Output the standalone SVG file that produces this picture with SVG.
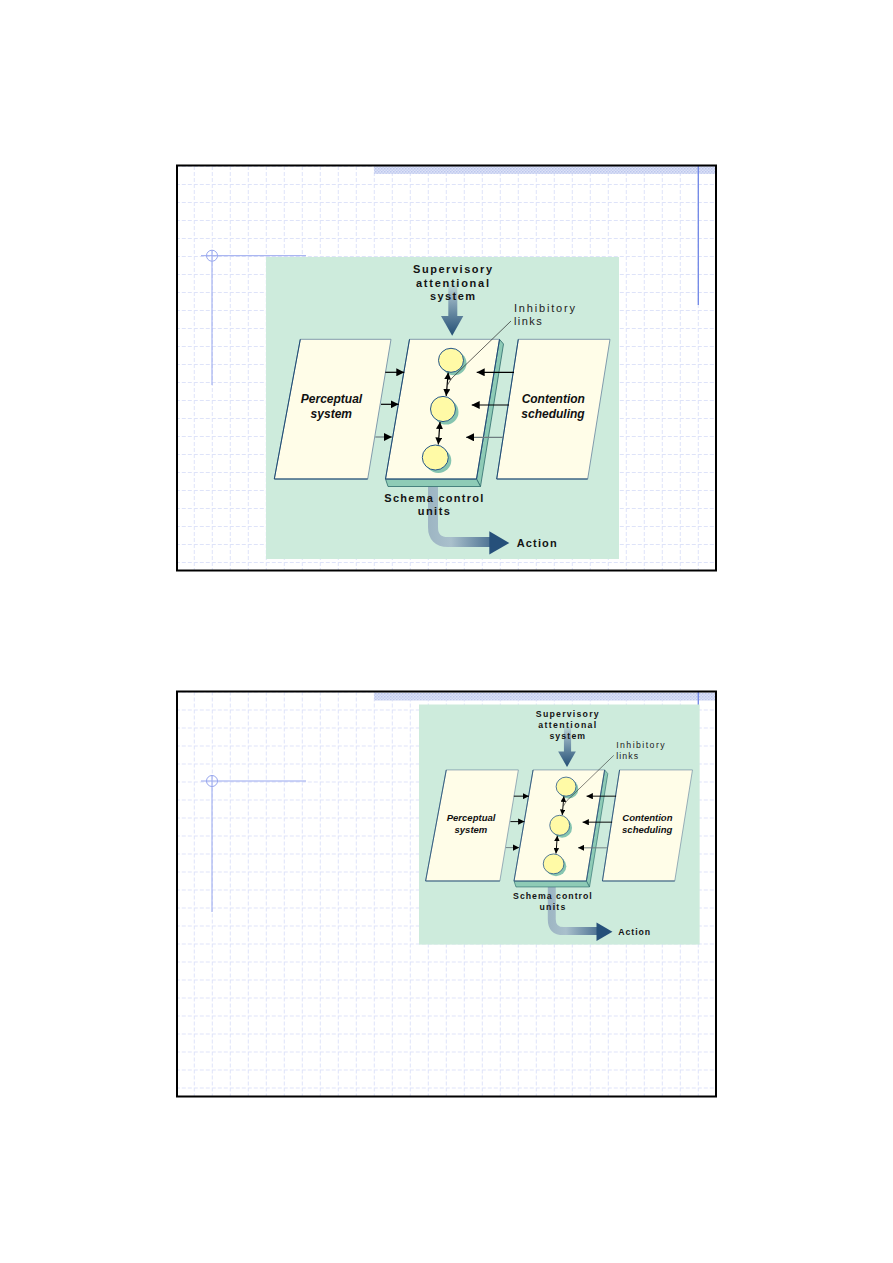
<svg xmlns="http://www.w3.org/2000/svg" width="893" height="1263" viewBox="0 0 893 1263">
<style>
.lbl{font-family:"Liberation Sans",Arial,sans-serif;font-weight:bold;font-size:11px;fill:#141414}
.thin{font-weight:normal;fill:#222}
.ital{font-family:"Liberation Sans",Arial,sans-serif;font-weight:bold;font-style:italic;font-size:12px;fill:#111}
.panel{fill:#CDEBDC}
.para{fill:#FFFDE8;stroke:#7591A6;stroke-width:0.9}
.edge{fill:none;stroke:#1D4A73;stroke-width:1}
.bevel{fill:#8ECBB6;stroke:#2D6B6B;stroke-width:0.8}
.shadow{fill:#86C5B0}
.circ{fill:#FFFAA6;stroke:#24578A;stroke-width:1}
.arr{stroke:#000;stroke-width:1.2;fill:none}
.arrg{stroke:#6E7C80;stroke-width:1.2;fill:none}
.deco{stroke:#97A6EE;stroke-width:1;fill:none}
.frame{fill:none;stroke:#000;stroke-width:2}
</style>
<defs>
<pattern id="grid1" patternUnits="userSpaceOnUse" x="193.8" y="184" width="18" height="18">
<path d="M0.5,0 V18" stroke="#DEE3F9" stroke-width="1" stroke-dasharray="4 2"/>
<path d="M0,0.5 H18" stroke="#DEE3F9" stroke-width="1" stroke-dasharray="4 2"/>
</pattern>
<pattern id="grid2" patternUnits="userSpaceOnUse" x="193.8" y="709.5" width="18" height="18">
<path d="M0.5,0 V18" stroke="#DEE3F9" stroke-width="1" stroke-dasharray="4 2"/>
<path d="M0,0.5 H18" stroke="#DEE3F9" stroke-width="1" stroke-dasharray="4 2"/>
</pattern>
<pattern id="hatch" patternUnits="userSpaceOnUse" width="3" height="3">
<rect width="3" height="3" fill="#DCE2F7"/>
<rect width="1.5" height="1.5" fill="#BCC7EE"/>
<rect x="1.5" y="1.5" width="1.5" height="1.5" fill="#C6CFF0"/>
</pattern>
<marker id="ah" markerUnits="userSpaceOnUse" markerWidth="8" markerHeight="8" refX="8" refY="4" orient="auto-start-reverse">
<path d="M0,0 L8,4 L0,8 z" fill="#000"/>
</marker>
<marker id="ahs" markerUnits="userSpaceOnUse" markerWidth="7" markerHeight="7" refX="7" refY="3.5" orient="auto-start-reverse">
<path d="M0,0 L7,3.5 L0,7 z" fill="#000"/>
</marker>
<linearGradient id="supGrad" gradientUnits="userSpaceOnUse" x1="0" y1="24" x2="0" y2="79">
<stop offset="0" stop-color="#CDEBDC"/>
<stop offset="0.25" stop-color="#9DB7C5"/>
<stop offset="0.65" stop-color="#5A7E99"/>
<stop offset="1" stop-color="#234E74"/>
</linearGradient>
<linearGradient id="actGrad" gradientUnits="userSpaceOnUse" x1="160" y1="0" x2="243" y2="0">
<stop offset="0" stop-color="#9CB4C2"/>
<stop offset="0.3" stop-color="#A9C0CC"/>
<stop offset="1" stop-color="#26507A"/>
</linearGradient>
</defs>

<rect width="893" height="1263" fill="#fff"/>

<!-- Slide 1 -->
<g id="slide1">
<rect x="178" y="166" width="537" height="404" fill="url(#grid1)"/>
<rect x="374" y="166" width="341" height="8" fill="url(#hatch)"/>
<line x1="698.3" y1="166" x2="698.3" y2="305" stroke="#6F86E6" stroke-width="1.3"/>
<line x1="201" y1="255.7" x2="306" y2="255.7" class="deco"/>
<line x1="212" y1="250" x2="212" y2="385" class="deco"/>
<circle cx="212" cy="255.7" r="5.5" class="deco"/>
<rect x="177" y="165.5" width="539" height="405" class="frame"/>
</g>

<!-- Slide 2 -->
<g id="slide2">
<rect x="178" y="692" width="537" height="404" fill="url(#grid2)"/>
<rect x="374" y="692.5" width="341" height="8" fill="url(#hatch)"/>
<line x1="698.3" y1="692" x2="698.3" y2="830" stroke="#6F86E6" stroke-width="1.3"/>
<line x1="201" y1="781" x2="306" y2="781" class="deco"/>
<line x1="212" y1="775" x2="212" y2="912" class="deco"/>
<circle cx="212" cy="781" r="5.5" class="deco"/>
<rect x="177" y="691.5" width="539" height="405" class="frame"/>
</g>

<!-- Diagram 1 -->
<g id="diagram1" transform="translate(266,257)">
<rect class="panel" x="0" y="0" width="353" height="302"/>
<g id="d1-supervisory">
<rect x="182.3" y="24" width="9" height="36" fill="url(#supGrad)"/>
<polygon points="175,59 197.3,59 186.2,78.7" fill="url(#supGrad)"/>
<text class="lbl" x="186.5" y="16.3" text-anchor="middle" textLength="79" lengthAdjust="spacing">Supervisory</text>
<text class="lbl" x="186.5" y="29.7" text-anchor="middle" textLength="73" lengthAdjust="spacing">attentional</text>
<text class="lbl" x="186.5" y="43" text-anchor="middle" textLength="45" lengthAdjust="spacing">system</text>
</g>
<g id="d1-action">
<path d="M167,229.5 V270 Q167,285 182,285 H224" fill="none" stroke="url(#actGrad)" stroke-width="10"/>
<polygon points="223.3,274.3 243.3,286 223.3,297.5" fill="#26507A"/>
<text class="lbl" x="250.7" y="289.7" textLength="40" lengthAdjust="spacing">Action</text>
</g>
<g id="d1-perceptual">
<polygon class="para" points="34.3,82.3 125,82.3 101.7,222 8.3,222"/>
<polyline class="edge" points="34.3,82.3 8.3,222 101.7,222"/>
<text class="ital" x="65.5" y="146.3" text-anchor="middle">Perceptual</text>
<text class="ital" x="65.3" y="161.3" text-anchor="middle">system</text>
</g>
<g id="d1-schema">
<polygon class="bevel" points="233.5,82.3 237.5,87 214.5,229.5 210.5,222"/>
<polygon class="bevel" points="119.5,222 210.5,222 214.5,229.5 122,229.5"/>
<polygon class="para" points="143.5,82.3 233.5,82.3 210.5,222 119.5,222"/>
<polyline class="edge" points="143.5,82.3 119.5,222 210.5,222 233.5,82.3"/>
<ellipse class="shadow" cx="188" cy="106.3" rx="12.5" ry="12"/>
<ellipse class="circ" cx="185" cy="103.3" rx="12.5" ry="12"/>
<ellipse class="shadow" cx="180" cy="155" rx="12.5" ry="12.6"/>
<ellipse class="circ" cx="177" cy="152" rx="12.5" ry="12.6"/>
<ellipse class="shadow" cx="172.3" cy="203.5" rx="13" ry="12.5"/>
<ellipse class="circ" cx="169.3" cy="200.5" rx="13" ry="12.5"/>
<text class="lbl" x="167.8" y="244.7" text-anchor="middle" textLength="99" lengthAdjust="spacing">Schema control</text>
<text class="lbl" x="167.8" y="258" text-anchor="middle" textLength="32.3" lengthAdjust="spacing">units</text>
</g>
<g id="d1-contention">
<polygon class="para" points="252.3,82.3 344,82.3 321.7,222 230.7,222"/>
<polyline class="edge" points="252.3,82.3 230.7,222 321.7,222"/>
<text class="ital" x="287.3" y="146.3" text-anchor="middle">Contention</text>
<text class="ital" x="287" y="161.3" text-anchor="middle">scheduling</text>
</g>
<g id="d1-inhibitory">
<text class="lbl thin" x="248" y="54.7" textLength="61" lengthAdjust="spacing">Inhibitory</text>
<text class="lbl thin" x="248" y="68" textLength="27.7" lengthAdjust="spacing">links</text>
</g>
<g id="d1-connectors">
<line class="arr" x1="182.2" y1="115.5" x2="180.2" y2="139" marker-start="url(#ahs)" marker-end="url(#ahs)"/>
<line class="arr" x1="174" y1="165" x2="172.3" y2="187.5" marker-start="url(#ahs)" marker-end="url(#ahs)"/>
<path d="M245,64 L186,121 Q183,125 181.5,128" fill="none" stroke="#222" stroke-width="0.7"/>
<line class="arr" x1="119.3" y1="115.3" x2="138.3" y2="115.3" marker-end="url(#ah)"/>
<line class="arr" x1="115" y1="147.3" x2="132.7" y2="147.3" marker-end="url(#ah)"/>
<line class="arrg" x1="109.3" y1="180" x2="126" y2="180" marker-end="url(#ah)"/>
<line class="arr" x1="248" y1="115.3" x2="210.7" y2="115.3" marker-end="url(#ah)"/>
<line class="arr" x1="243" y1="148" x2="205.7" y2="148" marker-end="url(#ah)"/>
<line class="arrg" x1="237.3" y1="180.3" x2="200" y2="180.3" marker-end="url(#ah)"/>
</g>
</g>

<!-- Diagram 2 -->
<g id="diagram2" transform="translate(419,704.5) scale(0.795)">
<rect class="panel" x="0" y="0" width="353" height="302"/>
<g id="d2-supervisory">
<rect x="182.3" y="24" width="9" height="36" fill="url(#supGrad)"/>
<polygon points="175,59 197.3,59 186.2,78.7" fill="url(#supGrad)"/>
<text class="lbl" x="186.5" y="16.3" text-anchor="middle" textLength="79" lengthAdjust="spacing">Supervisory</text>
<text class="lbl" x="186.5" y="29.7" text-anchor="middle" textLength="73" lengthAdjust="spacing">attentional</text>
<text class="lbl" x="186.5" y="43" text-anchor="middle" textLength="45" lengthAdjust="spacing">system</text>
</g>
<g id="d2-action">
<path d="M167,229.5 V270 Q167,285 182,285 H224" fill="none" stroke="url(#actGrad)" stroke-width="10"/>
<polygon points="223.3,274.3 243.3,286 223.3,297.5" fill="#26507A"/>
<text class="lbl" x="250.7" y="289.7" textLength="40" lengthAdjust="spacing">Action</text>
</g>
<g id="d2-perceptual">
<polygon class="para" points="34.3,82.3 125,82.3 101.7,222 8.3,222"/>
<polyline class="edge" points="34.3,82.3 8.3,222 101.7,222"/>
<text class="ital" x="65.5" y="146.3" text-anchor="middle">Perceptual</text>
<text class="ital" x="65.3" y="161.3" text-anchor="middle">system</text>
</g>
<g id="d2-schema">
<polygon class="bevel" points="233.5,82.3 237.5,87 214.5,229.5 210.5,222"/>
<polygon class="bevel" points="119.5,222 210.5,222 214.5,229.5 122,229.5"/>
<polygon class="para" points="143.5,82.3 233.5,82.3 210.5,222 119.5,222"/>
<polyline class="edge" points="143.5,82.3 119.5,222 210.5,222 233.5,82.3"/>
<ellipse class="shadow" cx="188" cy="106.3" rx="12.5" ry="12"/>
<ellipse class="circ" cx="185" cy="103.3" rx="12.5" ry="12"/>
<ellipse class="shadow" cx="180" cy="155" rx="12.5" ry="12.6"/>
<ellipse class="circ" cx="177" cy="152" rx="12.5" ry="12.6"/>
<ellipse class="shadow" cx="172.3" cy="203.5" rx="13" ry="12.5"/>
<ellipse class="circ" cx="169.3" cy="200.5" rx="13" ry="12.5"/>
<text class="lbl" x="167.8" y="244.7" text-anchor="middle" textLength="99" lengthAdjust="spacing">Schema control</text>
<text class="lbl" x="167.8" y="258" text-anchor="middle" textLength="32.3" lengthAdjust="spacing">units</text>
</g>
<g id="d2-contention">
<polygon class="para" points="252.3,82.3 344,82.3 321.7,222 230.7,222"/>
<polyline class="edge" points="252.3,82.3 230.7,222 321.7,222"/>
<text class="ital" x="287.3" y="146.3" text-anchor="middle">Contention</text>
<text class="ital" x="287" y="161.3" text-anchor="middle">scheduling</text>
</g>
<g id="d2-inhibitory">
<text class="lbl thin" x="248" y="54.7" textLength="61" lengthAdjust="spacing">Inhibitory</text>
<text class="lbl thin" x="248" y="68" textLength="27.7" lengthAdjust="spacing">links</text>
</g>
<g id="d2-connectors">
<line class="arr" x1="182.2" y1="115.5" x2="180.2" y2="139" marker-start="url(#ahs)" marker-end="url(#ahs)"/>
<line class="arr" x1="174" y1="165" x2="172.3" y2="187.5" marker-start="url(#ahs)" marker-end="url(#ahs)"/>
<path d="M245,64 L186,121 Q183,125 181.5,128" fill="none" stroke="#222" stroke-width="0.7"/>
<line class="arr" x1="119.3" y1="115.3" x2="138.3" y2="115.3" marker-end="url(#ah)"/>
<line class="arr" x1="115" y1="147.3" x2="132.7" y2="147.3" marker-end="url(#ah)"/>
<line class="arrg" x1="109.3" y1="180" x2="126" y2="180" marker-end="url(#ah)"/>
<line class="arr" x1="248" y1="115.3" x2="210.7" y2="115.3" marker-end="url(#ah)"/>
<line class="arr" x1="243" y1="148" x2="205.7" y2="148" marker-end="url(#ah)"/>
<line class="arrg" x1="237.3" y1="180.3" x2="200" y2="180.3" marker-end="url(#ah)"/>
</g>
</g>
</svg>
